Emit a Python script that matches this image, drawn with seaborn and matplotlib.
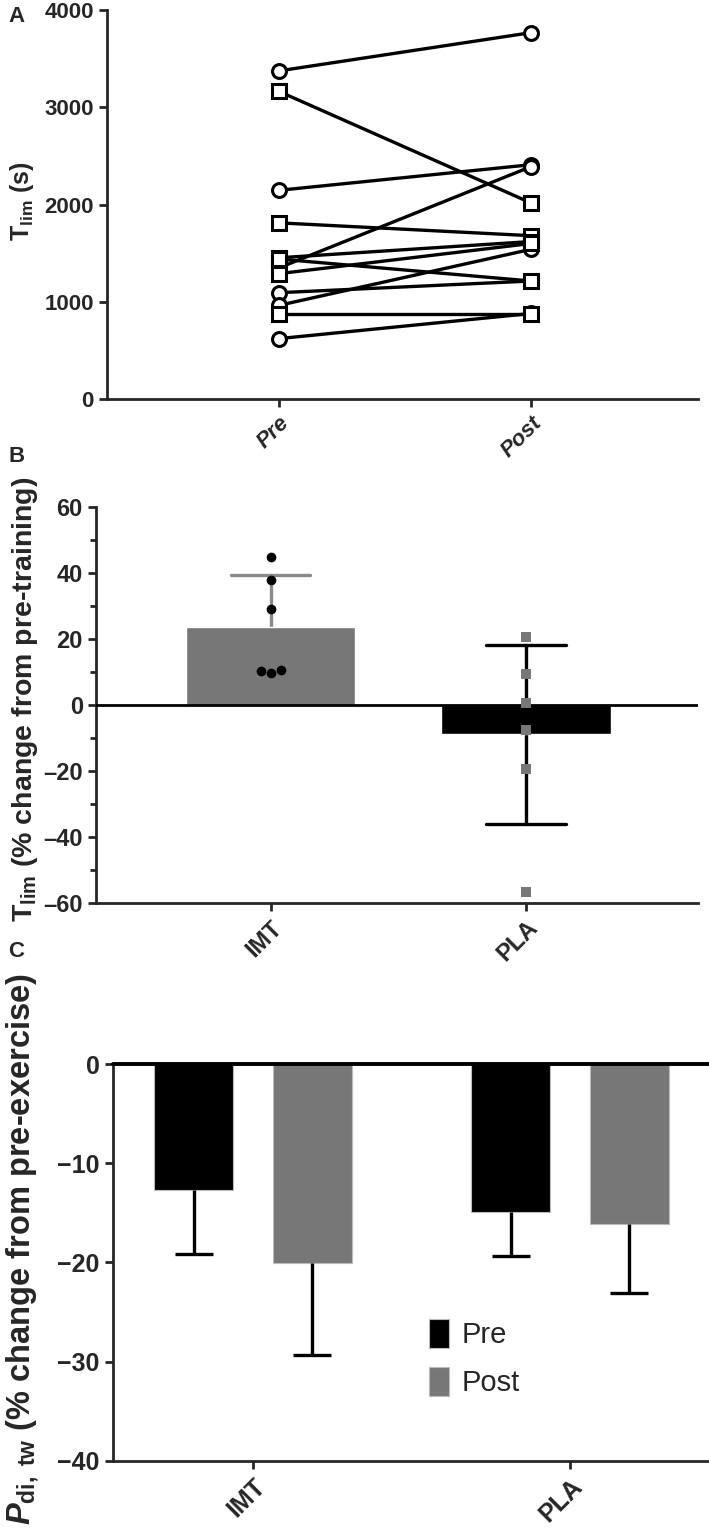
import numpy as np
import pandas as pd
import matplotlib
matplotlib.use("Agg")
import matplotlib.pyplot as plt
import seaborn as sns

# ---- data ----
# panel A: exercise time to intolerance (s), each subject pre -> post
circle_pre = [3375, 2147, 1350, 1094, 964, 622]
circle_post = [3768, 2410, 2390, 1214, 1540, 880]
square_pre = [3163, 1812, 1453, 1440, 1290, 872]
square_post = [2017, 1680, 1620, 1214, 1600, 872]
times = ["Pre", "Post"]

# panel B: individual % change in Tlim
groups = ["IMT", "PLA"]
imt_change = [45.0, 38.0, 29.0, 10.5, 9.6, 10.2]
pla_change = [20.5, 9.4, 0.5, -7.6, -19.3, -56.7]

# panel C: Pdi,tw % change from pre-exercise, mean and SD
pdi_pre_mean = [-12.7, -14.9]
pdi_post_mean = [-20.1, -16.1]
pdi_pre_sd = [6.4, 4.4]
pdi_post_sd = [9.2, 7.0]

GREY = "#777777"

sns.set_style("ticks")
plt.rcParams["font.family"] = ["Liberation Sans", "DejaVu Sans"]
plt.rcParams["mathtext.fontset"] = "custom"
plt.rcParams["mathtext.rm"] = "Liberation Sans:bold"
plt.rcParams["mathtext.bf"] = "Liberation Sans:bold"
plt.rcParams["mathtext.it"] = "Liberation Sans:italic:bold"
plt.rcParams["axes.linewidth"] = 2.0

fig = plt.figure(figsize=(7.09, 15.29), dpi=100)
axA = fig.add_axes([0.151, 0.7390, 0.8335, 0.2544])
axB = fig.add_axes([0.1354, 0.4094, 0.8491, 0.2590])
axC = fig.add_axes([0.1594, 0.0445, 0.8406, 0.2596])


def style_axis(ax, size, italic_x=False):
    sns.despine(ax=ax)
    ax.tick_params(axis="both", width=2, length=6, labelsize=size, direction="out")
    for lab in ax.get_yticklabels() + ax.get_xticklabels():
        lab.set_fontweight("bold")
    for lab in ax.get_xticklabels():
        lab.set_rotation(45)
        lab.set_ha("right")
        lab.set_rotation_mode("anchor")
        if italic_x:
            lab.set_fontstyle("italic")


# ---- A ----
rows = []
for i, (a, b) in enumerate(zip(circle_pre, circle_post)):
    rows += [dict(subj=f"c{i}", shape="circle", time=times[0], tlim=a),
             dict(subj=f"c{i}", shape="circle", time=times[1], tlim=b)]
for i, (a, b) in enumerate(zip(square_pre, square_post)):
    rows += [dict(subj=f"s{i}", shape="square", time=times[0], tlim=a),
             dict(subj=f"s{i}", shape="square", time=times[1], tlim=b)]
dfA = pd.DataFrame(rows)
sns.lineplot(data=dfA, x="time", y="tlim", units="subj", estimator=None,
             style="shape", markers={"circle": "o", "square": "s"}, dashes=False,
             color="black", lw=2.4, ms=10, mfc="white", mec="black", mew=2.2,
             legend=False, sort=False, ax=axA)
axA.set_xlim(-0.683, 1.663)
axA.set_ylim(0, 4000)
axA.set_yticks([0, 1000, 2000, 3000, 4000])
axA.set_xlabel("")
axA.set_ylabel(r"T$_{\mathrm{lim}}$ (s)", fontsize=18, fontweight="bold")
axA.yaxis.set_label_coords(-0.12, 0.51)
style_axis(axA, 16, italic_x=True)

# ---- B ----
dfB = pd.DataFrame({"group": [groups[0]] * len(imt_change) + [groups[1]] * len(pla_change),
                    "change": imt_change + pla_change})
for g, col, ecol in [(groups[0], GREY, "#8a8a8a"), (groups[1], "black", "black")]:
    sns.barplot(data=dfB[dfB.group == g], x="group", y="change", order=groups,
                color=col, saturation=1, width=0.663, errorbar="sd", capsize=0.31,
                err_kws={"color": ecol, "linewidth": 2.4, "zorder": 0.5}, ax=axB)
axB.axhline(0, color="black", lw=2.0, zorder=3)
sns.swarmplot(data=dfB[dfB.group == groups[0]], x="group", y="change", order=groups,
              color="black", marker="o", size=7, ax=axB, zorder=4)
sns.swarmplot(data=dfB[dfB.group == groups[1]], x="group", y="change", order=groups,
              color=GREY, marker="s", size=6.5, ax=axB, zorder=4)
axB.set_xlim(-0.686, 1.6745)
axB.set_ylim(-60, 60)
axB.set_yticks(np.arange(-60, 61, 20))
axB.set_yticks(np.arange(-50, 60, 20), minor=True)
axB.set_yticklabels([str(v).replace("-", "\u2013") for v in range(-60, 61, 20)])
axB.tick_params(axis="y", which="minor", width=2, length=4)
axB.set_xlabel("")
axB.set_ylabel(r"T$_{\mathrm{lim}}$ (% change from pre-training)", fontsize=20.5,
               fontweight="bold")
axB.yaxis.set_label_coords(-0.093, 0.515)
style_axis(axB, 17)

# ---- C ----
dfC = pd.DataFrame({"group": groups * 2,
                    "time": ["Pre"] * 2 + ["Post"] * 2,
                    "mean": pdi_pre_mean + pdi_post_mean,
                    "sd": pdi_pre_sd + pdi_post_sd})
sns.barplot(data=dfC, x="group", y="mean", hue="time", order=groups,
            hue_order=["Pre", "Post"], palette=["black", GREY], saturation=1,
            width=0.748, gap=0.337, errorbar=None, edgecolor="#bbbbbb",
            linewidth=0.8, ax=axC)
bars = sorted(axC.patches[:4], key=lambda p: p.get_x())
means = [pdi_pre_mean[0], pdi_post_mean[0], pdi_pre_mean[1], pdi_post_mean[1]]
sds = [pdi_pre_sd[0], pdi_post_sd[0], pdi_pre_sd[1], pdi_post_sd[1]]
for p, m, s in zip(bars, means, sds):
    xc = p.get_x() + p.get_width() / 2
    axC.vlines(xc, m, m - s, color="black", lw=2.4)
    axC.hlines(m - s, xc - 0.06, xc + 0.06, color="black", lw=2.4)
axC.axhline(0, color="black", lw=2.8, zorder=3, clip_on=False)
axC.set_xlim(-0.4416, 1.4385)
axC.set_ylim(-40, 0)
axC.set_yticks([-40, -30, -20, -10, 0])
axC.set_yticklabels(["\u221240", "\u221230", "\u221220", "\u221210", "0"])
axC.set_xlabel("")
axC.set_ylabel(r"$\mathit{P}_{\mathrm{di,\ tw}}$ (% change from pre-exercise)",
               fontsize=23.5, fontweight="bold")
axC.yaxis.set_label_coords(-0.12, 0.535)
style_axis(axC, 18)
h, l = axC.get_legend_handles_labels()
axC.legend(h, l, loc="upper left", bbox_to_anchor=(0.505, 0.395), frameon=False,
           fontsize=21, handlelength=0.7, handleheight=1.15, labelspacing=0.6,
           handletextpad=0.45, borderpad=0)

# panel letters
fig.text(0.012, 1 - 17 / 1529, "A", fontsize=16, fontweight="bold", va="center")
fig.text(0.012, 1 - 456 / 1529, "B", fontsize=16, fontweight="bold", va="center")
fig.text(0.012, 1 - 952 / 1529, "C", fontsize=16, fontweight="bold", va="center")

fig.savefig("out.png", dpi=100)
